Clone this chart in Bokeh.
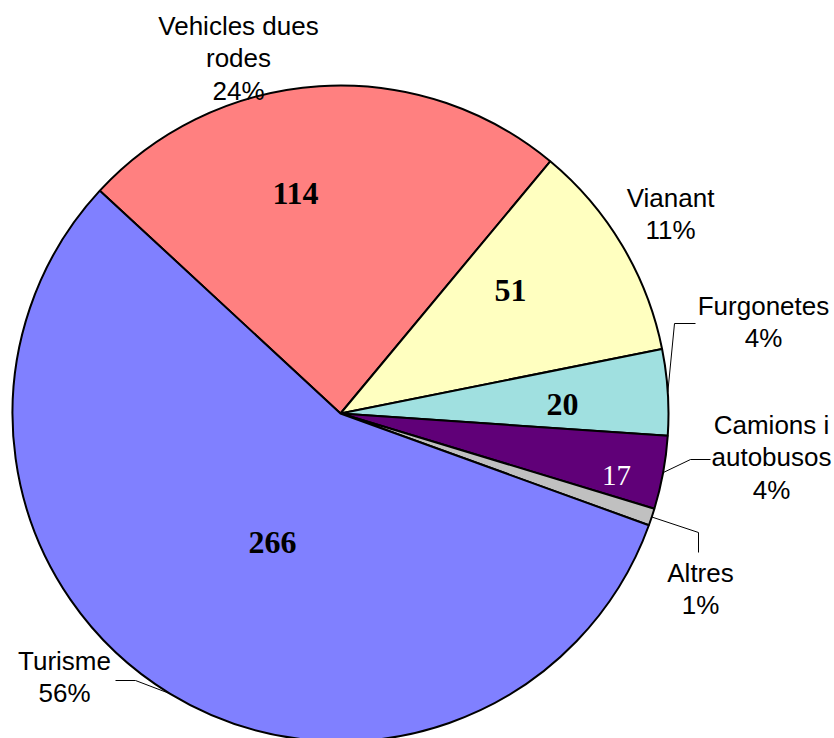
import math
from bokeh.plotting import figure
from bokeh.models import Range1d
from bokeh.core.properties import value
from bokeh.embed import file_html
from bokeh.resources import INLINE

# ---- data (clockwise order, starting at upper-left) ----
categories = ["Vehicles dues rodes", "Vianant", "Furgonetes", "Camions i autobusos", "Altres", "Turisme"]
counts = [114, 51, 20, 17, 4, 266]
label_lines = [["Vehicles dues", "rodes"], ["Vianant"], ["Furgonetes"], ["Camions i", "autobusos"], ["Altres"], ["Turisme"]]

# ---- styles ----
colors = ["#FF8080", "#FFFFC0", "#A0E0E0", "#600078", "#C0C0C0", "#8080FF"]
value_colors = ["black", "black", "black", "white", None, "black"]
value_weights = ["bold", "bold", "bold", "normal", "normal", "bold"]

# ---- layout (in page pixels) ----
W, H = 834, 738
CX_IMG, CY_IMG, R = 340, 413, 328
START_DEG = 137.2   # angle of first slice edge, slices go clockwise
LINE_GAP = 32.5
TEXT_SHIFT = -10

def dx(xi):
    return xi

def dy(yi):
    return H - yi

cx, cy = dx(CX_IMG), dy(CY_IMG)

# outside label positions: (center x, first baseline y) in page pixels
label_pos = [(238, 35), (670, 207), (763, 315), (771, 434), (700, 582), (64, 670)]
# value label positions: (center x, baseline y)
value_pos = [(295, 203), (510, 300), (562, 414), (616, 485), None, (272, 552)]
# leader lines: elbow and end points (None = no leader)
leaders = [None, None, [(674, 323), (695, 323)], [(690, 459), (710, 459)],
           [(698, 532), (698, 552)], [(135, 680), (115, 680)]]

p = figure(width=W, height=H, output_backend="svg", toolbar_location=None,
           x_range=Range1d(0, W), y_range=Range1d(0, H),
           x_axis_type=None, y_axis_type=None, min_border=0)
p.grid.visible = False
p.outline_line_color = None
p.background_fill_color = "white"
p.border_fill_color = "white"

total = sum(counts)
starts, ends, mids = [], [], []
a = START_DEG
for c in counts:
    span = c / total * 360.0
    starts.append(a)
    ends.append(a - span)
    mids.append(a - span / 2)
    a -= span

p.wedge(x=[cx] * len(counts), y=[cy] * len(counts), radius=R,
        start_angle=[math.radians(e) for e in ends],
        end_angle=[math.radians(s) for s in starts],
        fill_color=colors, line_color="black", line_width=2)

# leader lines
for i, ld in enumerate(leaders):
    if ld is None:
        continue
    m = math.radians(mids[i])
    x0 = cx + R * math.cos(m)
    y0 = cy + R * math.sin(m)
    xs = [x0] + [dx(px) for px, _ in ld]
    ys = [y0] + [dy(py) for _, py in ld]
    p.line(xs, ys, line_color="black", line_width=1)

# outside labels
for i, cat in enumerate(categories):
    pct = round(counts[i] / total * 100)
    lines = label_lines[i] + [f"{pct}%"]
    lx, ly = label_pos[i]
    p.text(x=[dx(lx)] * len(lines),
           y=[dy(ly + TEXT_SHIFT + k * LINE_GAP) for k in range(len(lines))],
           text=lines, text_align="center", text_baseline="alphabetic",
           text_font=value("Liberation Sans"), text_font_size="26px",
           text_color="black")

# value labels
for i, c in enumerate(counts):
    if value_pos[i] is None:
        continue
    vx, vy = value_pos[i]
    p.text(x=[dx(vx)], y=[dy(vy + TEXT_SHIFT)], text=[str(c)],
           text_align="center", text_baseline="alphabetic",
           text_font=value("Liberation Serif"),
           text_font_size="32px" if value_weights[i] == "bold" else "29px",
           text_font_style=value_weights[i], text_color=value_colors[i])

open("out.html", "w").write(file_html(p, INLINE))
